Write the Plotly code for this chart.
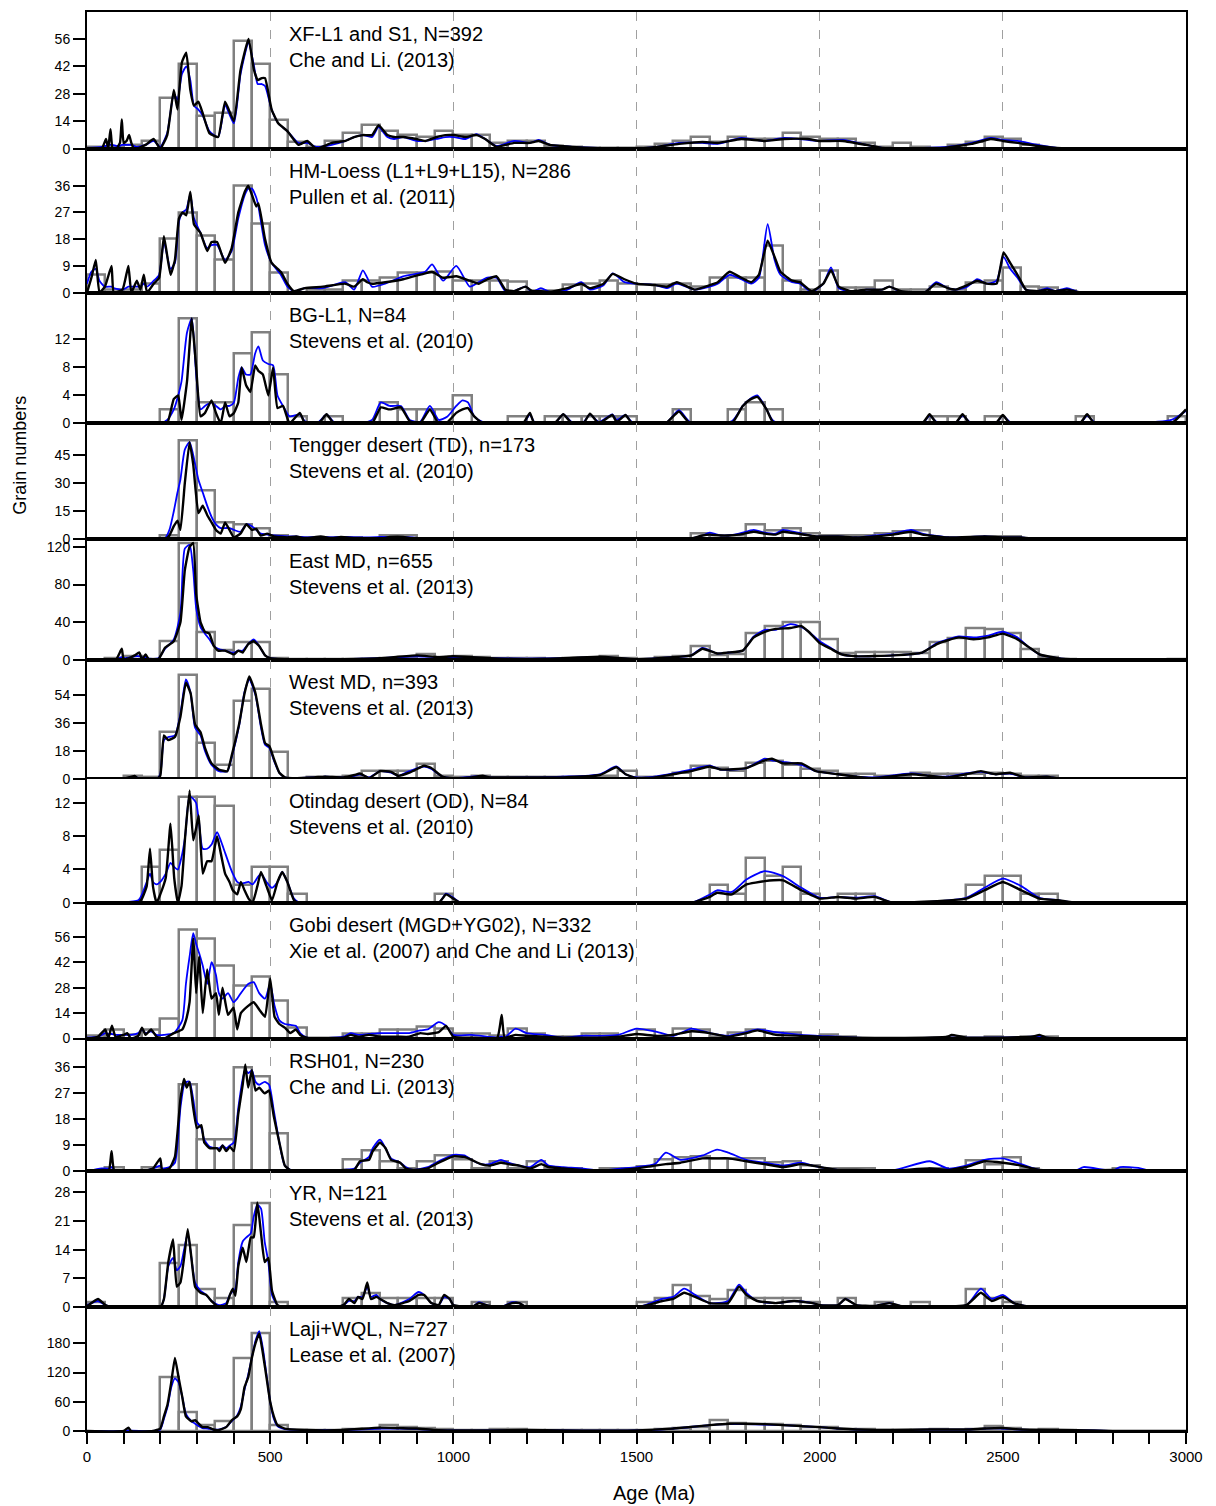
import plotly.graph_objects as go
from plotly.subplots import make_subplots

# ---------------- data ----------------
BIN_LEFT = list(range(0, 3000, 50))
BIN_WIDTH = 50

LABELS = ["XF-L1 and S1, N=392", "HM-Loess (L1+L9+L15), N=286", "BG-L1, N=84",
          "Tengger desert (TD), n=173", "East MD, n=655", "West MD, n=393",
          "Otindag desert (OD), N=84", "Gobi desert (MGD+YG02), N=332",
          "RSH01, N=230", "YR, N=121", "Laji+WQL, N=727"]
SOURCES = ["Che and Li. (2013)", "Pullen et al. (2011)", "Stevens et al. (2010)",
           "Stevens et al. (2010)", "Stevens et al. (2013)", "Stevens et al. (2013)",
           "Stevens et al. (2010)", "Xie et al. (2007) and Che and Li (2013)",
           "Che and Li. (2013)", "Stevens et al. (2013)", "Lease et al. (2007)"]
YTICKS = [[0, 14, 28, 42, 56], [0, 9, 18, 27, 36], [0, 4, 8, 12], [0, 15, 30, 45],
          [0, 40, 80, 120], [0, 18, 36, 54], [0, 4, 8, 12], [0, 14, 28, 42, 56],
          [0, 9, 18, 27, 36], [0, 7, 14, 21, 28], [0, 60, 120, 180]]
YMAX = [69.7, 48.4, 18.7, 62, 128, 76.5, 14.9, 74.7, 46, 33.1, 254]
XTICKS = [0, 500, 1000, 1500, 2000, 2500, 3000]

# histograms (50 Ma bins, 0..3000)
P1_HIST = [1, 1, 2, 4, 26, 43, 16.5, 18.5, 55, 43,
           14.5, 3.5, 1, 4, 8, 12, 9, 7, 6, 9,
           7, 7, 3, 4, 4, 1.5, 1, 0.5, 0.5, 0.5,
           1, 2.7, 4, 6, 3.5, 6, 5, 5, 8, 6,
           5, 5, 3, 1, 3, 1, 0.5, 2, 3.5, 6,
           5, 2, 0, 0, 0, 0, 0, 0, 0, 0]
P2_HIST = [6, 1, 1, 3, 18, 27, 19, 11, 36, 23,
           6.5, 0, 1, 1, 4, 4, 5, 6.5, 6.5, 7,
           4, 4, 4, 3.5, 0.5, 0.5, 2.5, 3, 4, 3,
           2.5, 2.5, 3, 2, 5, 5, 5, 15.7, 4, 1,
           7.3, 1.5, 1.5, 4, 1, 1, 1.8, 1, 3.4, 4,
           8.4, 2, 1.5, 0.5, 0, 0, 0, 0, 0, 0]
P3_HIST = [0, 0, 0, 0, 2, 15, 3, 3, 10, 13,
           7, 1, 0, 1, 0, 0, 3, 2, 2, 2,
           4, 0, 0, 1, 0, 1, 1, 1, 1, 1,
           0, 0, 2, 0, 0, 2, 3, 2, 0, 0,
           0, 0, 0, 0, 0, 0, 1, 1, 0, 1,
           0, 0, 0, 0, 1, 0, 0, 0, 0, 1]
P4_HIST = [0, 0, 0, 0, 2, 53, 26, 9, 8, 6,
           2, 1, 1, 1, 1, 0, 2, 2, 0, 0,
           0, 0, 0, 0, 0, 0, 0, 0, 0, 0,
           0, 0, 0, 3, 2, 2, 8, 5, 6, 3,
           2, 2, 2, 3, 4, 5, 1, 0, 1, 1.5,
           1.5, 0, 0, 0, 0, 0, 0, 0, 0, 0]
P5_HIST = [0, 2, 4, 1, 20, 124, 30, 10, 19, 19,
           2, 1, 0.5, 0.5, 0.5, 1, 2, 3, 6, 3,
           4, 3, 2, 1.5, 1.5, 1, 2, 2, 4, 2,
           1, 3, 4, 15, 5, 6, 28, 36, 40, 40,
           22, 7, 8, 8, 8, 7, 19, 23, 34, 33,
           28, 12, 3, 1, 0, 0, 0, 0, 0, 0.5]
P6_HIST = [0, 0, 2, 1, 30, 67, 23, 9, 50, 58,
           17, 0, 1, 1, 2, 5, 5, 5, 9.5, 2,
           1, 2, 1, 1, 1, 1, 1, 1, 2, 5,
           1, 1, 4, 8, 7, 5, 10, 11.6, 9, 6.4,
           5, 3, 3, 2, 1, 4, 3, 3, 3, 4,
           3, 2, 2, 0, 0, 0, 0, 0, 0, 0]
P7_HIST = [0, 0, 0, 4.3, 6.3, 12.7, 12.7, 11.6, 2.1, 4.3,
           4.3, 1.1, 0, 0, 0, 0, 0, 0, 0, 1.1,
           0, 0, 0, 0, 0, 0, 0, 0, 0, 0,
           0, 0, 0, 0, 2.1, 1.1, 5.4, 3.2, 4.3, 1.1,
           0, 1.1, 1.1, 0, 0, 0, 0, 0, 2.1, 3.2,
           3.2, 1.1, 1.1, 0, 0, 0, 0, 0, 0, 0]
P8_HIST = [1.3, 5, 2, 5, 11, 60, 55, 40, 29, 34,
           21, 6, 0, 0, 2.6, 2.6, 4.6, 4.6, 6.3, 5.5,
           2.6, 2.6, 1.7, 5.5, 2.6, 1, 1, 2.6, 2.6, 0,
           5, 1, 5.5, 5, 1, 3, 5, 3, 3, 1,
           2, 1, 0, 0, 0, 0, 0, 1, 0, 1,
           0, 1, 1, 0, 0, 0, 0, 0, 0, 0]
P9_HIST = [0, 1.2, 0, 1.2, 0, 30, 11, 11, 36, 33,
           13, 0, 0, 0, 4.2, 7.2, 3.3, 1, 3.3, 5.4,
           4.2, 1, 3.3, 1, 3.3, 1, 1, 0, 1, 1,
           1.8, 4.2, 4.8, 5.2, 4.5, 4.5, 4.5, 3, 3.5, 2,
           1, 1, 1, 0, 0, 0, 1, 0, 3.8, 2.5,
           4.8, 1, 0, 0, 0, 0, 1, 0, 0, 0]
P10_HIST = [1.2, 0, 0, 0, 10.6, 15, 4.3, 2.2, 20, 25.4,
            1.1, 0, 0, 0, 2.2, 3.3, 2.2, 2.2, 2.2, 2.2,
            0, 1.1, 0, 1.1, 0, 0, 0, 0, 0, 0,
            1.1, 2.2, 5.4, 2.7, 2, 4.1, 2.2, 2.2, 2.2, 1.1,
            0, 2.2, 0, 1.1, 0, 1.1, 0, 0, 4.3, 2.2,
            1.1, 0, 0, 0, 0, 0, 0, 0, 0, 0]
P11_HIST = [0, 0, 0, 0, 111, 38, 12, 20, 149, 201,
            11, 2, 1, 1, 3, 3, 11, 8, 6, 3,
            2, 2, 3, 3, 2, 2, 1, 1, 1, 1,
            2, 3, 5, 8, 22, 16, 14, 14, 12, 8,
            8, 4, 3, 2, 2, 2, 4, 2, 3, 10,
            6, 2, 3, 1, 0, 0, 0, 0, 0, 0]

# curves: ages (Ma), black = PDP, blue = KDE
P1_AGE = [0, 40, 52, 58, 64, 70, 80, 90, 95, 100, 108, 115, 121, 128, 134, 160, 182, 200, 219, 237,
          247, 259, 271, 282, 292, 304, 316, 334, 358, 377, 401, 419, 441, 456, 466, 477, 486, 504, 522, 547,
          577, 601, 626, 668, 705, 729, 753, 778, 796, 820, 838, 863, 899, 923, 954, 978, 1002, 1033, 1063, 1087,
          1118, 1166, 1209, 1233, 1264, 1324, 1397, 1494, 1555, 1616, 1680, 1722, 1786, 1850, 1903, 1967, 2000, 2063, 2127, 2170,
          2254, 2340, 2415, 2467, 2500, 2540, 2595, 2660, 2735, 3000]
P1_PDP = [0, 0, 5, 0, 10, 0, 0, 3, 15, 3, 4, 7, 3, 0, 0, 2, 5, 0, 7, 30,
          20, 44, 49, 30, 22, 24, 18, 8, 6, 24, 14, 40, 56, 40, 35, 36, 36, 20, 13, 9,
          2, 4, 0, 3, 4, 6, 7, 7, 12, 7, 6, 6, 5, 4, 6, 7, 7, 6, 7, 5,
          1, 3, 3, 4, 2, 1, 0.3, 0, 1, 2.5, 3.5, 3, 5, 4, 5, 5, 4, 4, 2, 0.5,
          0.3, 0.5, 2.5, 5, 4, 3, 1.5, 0.3, 0, 0]
P1_KDE = [0.5, 1, 1.5, 2, 2, 2, 1.5, 1.5, 2, 2, 2, 2, 2, 1.5, 1, 2, 4, 1, 8, 28,
          25, 38, 42, 35, 22, 20, 17, 9, 6, 22, 13, 38, 54, 42, 33, 33, 32, 20, 13, 9,
          3, 3, 1, 2, 4, 6, 7, 6, 11, 6, 5, 6, 4, 4, 5, 6, 6, 5, 7.5, 5,
          1.5, 4, 3, 4.5, 2, 1, 0.5, 0.2, 1, 3, 3, 2.5, 5.5, 4, 5.5, 4.5, 4, 4.5, 2, 0.5,
          0.3, 0.8, 3, 5.5, 4.5, 4, 2, 0.3, 0, 0]

P2_AGE = [0, 12, 24, 34, 49, 67, 73, 97, 113, 121, 136, 146, 155, 164, 182, 197, 210, 228, 240, 251,
          261, 271, 282, 292, 310, 328, 340, 355, 377, 395, 413, 431, 440, 450, 462, 468, 486, 504, 529, 547,
          565, 595, 644, 705, 729, 753, 765, 778, 814, 863, 923, 942, 972, 1008, 1045, 1069, 1093, 1118, 1142, 1166,
          1197, 1215, 1239, 1264, 1312, 1349, 1373, 1410, 1435, 1467, 1500, 1552, 1584, 1610, 1659, 1700, 1722, 1754, 1786, 1813,
          1834, 1858, 1877, 1893, 1925, 1946, 1978, 2010, 2031, 2052, 2084, 2127, 2170, 2190, 2222, 2286, 2318, 2350, 2371, 2403,
          2430, 2456, 2483, 2502, 2520, 2540, 2563, 2595, 2621, 2643, 2675, 2712, 3000]
P2_PDP = [0, 5, 11, 0, 2, 9, 0, 1, 9, 0, 4, 1, 6, 0, 3, 5, 19, 6, 11, 25,
          27, 26, 34, 23, 20, 14, 17, 17, 10, 15, 27, 34, 36, 33, 29, 30, 18, 10, 7, 3,
          0.5, 1.5, 2, 3, 2, 4.5, 3.5, 3, 3.5, 4.5, 6.5, 7, 5, 5.5, 4, 3, 4.5, 5.5, 1, 0.5,
          2, 0.5, 0.5, 0.3, 1.5, 3, 1.5, 3, 6.3, 4.5, 3, 2.5, 2, 3.5, 1, 2.5, 3.5, 7, 5, 3.5,
          6, 17.5, 12, 7, 4, 3.5, 0.5, 3, 7.5, 2, 0.5, 1, 1, 2, 0.5, 0, 3, 1.5, 1, 2.5,
          4, 3, 3, 13.5, 10, 6, 1, 0.5, 1, 0.5, 1, 0, 0]
P2_KDE = [3, 7, 8, 4, 2, 2, 1.5, 1, 2, 2, 2, 2, 3, 2, 4, 6, 17, 8, 10, 24,
          27, 28, 33, 25, 20, 15, 16, 16, 11, 14, 25, 33, 35, 35, 32, 29, 16, 10, 6, 2,
          0.5, 1.5, 1.5, 3.5, 1, 7.5, 5, 2, 3, 5.5, 7, 9.5, 4, 9, 2, 3.5, 5, 5, 0.5, 0.5,
          2, 0.3, 1.5, 0.2, 1, 3.5, 1, 2.5, 6.5, 3.5, 3, 2.5, 1.5, 3, 1, 2, 3, 6, 4.5, 3,
          5, 23, 11, 6, 3.5, 3, 0.3, 3, 8.5, 1.5, 0.3, 1, 1, 2, 0.3, 0, 3.5, 1.5, 1, 2,
          4.5, 3, 4, 12, 8, 5, 1, 0.5, 1.5, 0.5, 1.5, 0, 0]

P3_AGE = [0, 200, 219, 237, 249, 258, 273, 286, 298, 310, 322, 340, 352, 365, 377, 389, 401, 413, 422, 434,
          446, 459, 468, 480, 495, 508, 520, 535, 553, 581, 595, 632, 654, 674, 741, 778, 802, 826, 857, 881,
          909, 936, 960, 984, 1008, 1025, 1040, 1057, 1081, 1190, 1209, 1221, 1276, 1300, 1324, 1355, 1373, 1397, 1434, 1446,
          1470, 1488, 1579, 1616, 1646, 1760, 1790, 1810, 1830, 1855, 1875, 2280, 2300, 2320, 2370, 2390, 2410, 2480, 2500, 2520,
          2710, 2730, 2750, 2960, 3000]
P3_PDP = [0, 0, 0, 3.5, 4, 0.5, 6, 15, 8, 1, 1.5, 3.3, 1.5, 0, 3, 1, 1.5, 3, 8, 5.5,
          4.5, 8.3, 7.5, 7, 4, 8, 2.2, 2.5, 0, 1.5, 0, 0, 1.3, 0, 0, 0, 2.3, 2, 2.3, 0.3,
          0, 2, 0, 0.2, 1.5, 2, 2.2, 1, 0, 0, 1.5, 0, 0, 1.3, 0, 0, 1.4, 0, 1.2, 0.2,
          1.2, 0, 0, 1.7, 0, 0, 2.5, 3.4, 3.8, 2, 0, 0, 1.3, 0, 0, 1.3, 0, 0, 1.2, 0,
          0, 1.3, 0, 0, 2]
P3_KDE = [0, 0, 0.5, 2, 4, 6, 13, 15, 7, 2, 2.5, 3, 2.5, 2, 2.5, 2.5, 3, 6.5, 8, 7,
          7, 10, 11, 9, 8.5, 8.3, 4, 2.5, 1, 1.3, 0.3, 0.2, 1.3, 0.2, 0, 0.5, 3, 2.5, 2.5, 0.5,
          0.2, 2.5, 0.5, 1, 2.5, 3.3, 3, 1, 0.2, 0, 1.3, 0.2, 0, 1.3, 0.2, 0.2, 1.3, 0.2, 1.3, 0.5,
          1.2, 0.2, 0, 1.9, 0.2, 0.3, 2.5, 3.5, 4, 2, 0.3, 0, 1.1, 0.2, 0, 1.1, 0.2, 0, 1.1, 0.2,
          0, 1.1, 0.2, 0.5, 1.8]

P4_AGE = [0, 200, 213, 225, 237, 247, 255, 267, 280, 290, 304, 316, 328, 340, 352, 365, 377, 389, 401, 419,
          435, 450, 462, 474, 492, 510, 547, 571, 595, 638, 668, 693, 741, 802, 826, 863, 887, 936, 1000, 1600,
          1650, 1680, 1700, 1730, 1750, 1780, 1820, 1850, 1880, 1900, 1940, 1990, 2050, 2100, 2150, 2200, 2250, 2280, 2350, 2450,
          2500, 2550, 2600, 3000]
P4_PDP = [0, 0, 0, 2, 7, 10, 5, 30, 52, 40, 14, 18, 13, 9, 5, 3, 9, 5, 1, 3,
          8, 5, 5.5, 2, 3, 1.5, 1, 1.5, 0.5, 1.5, 0.5, 1.2, 0.3, 0.3, 1.2, 1.3, 0.5, 0, 0, 0,
          0.5, 2, 2.5, 2, 2, 2.5, 4, 3, 2.5, 4, 3, 1.5, 1.5, 1, 1.5, 2.5, 4, 2.5, 1, 1.5,
          1, 1, 0, 0]
P4_KDE = [0, 0, 0.5, 5, 15, 25, 32, 48, 52, 45, 32, 25, 18, 12, 8, 6, 6, 6, 5, 4,
          8, 7, 5, 3, 2.5, 2, 1.5, 1.5, 1, 1.2, 1, 1.2, 1, 1.2, 1.3, 1.3, 1, 0.2, 0, 0,
          0.5, 2, 3.5, 2, 2, 3, 5, 3.5, 3, 5, 3.5, 1.5, 1.5, 1, 2, 3, 5, 3, 1, 1.5,
          1, 1, 0, 0]

P5_AGE = [0, 60, 80, 95, 100, 120, 130, 143, 150, 160, 170, 195, 213, 237, 255, 267, 280, 290, 298, 310,
          322, 334, 346, 358, 377, 401, 413, 425, 440, 455, 470, 486, 500, 540, 600, 700, 800, 900, 960, 1000,
          1100, 1200, 1300, 1400, 1500, 1600, 1650, 1680, 1720, 1750, 1790, 1820, 1850, 1880, 1920, 1950, 1970, 2000, 2030, 2060,
          2100, 2200, 2280, 2320, 2350, 2380, 2420, 2460, 2500, 2540, 2570, 2600, 2650, 2700, 2800, 2950, 3000]
P5_PDP = [0, 0.5, 1, 12, 1, 3, 5, 8, 1, 6, 0, 1, 13, 20, 40, 95, 120, 124, 70, 40,
          30, 28, 15, 10, 10, 6, 10, 8, 17, 20, 15, 5, 2, 1, 0.5, 1, 2, 5, 3, 4,
          2, 1, 2, 3.5, 1, 3, 5, 12, 7, 8, 10, 24, 30, 33, 34, 36, 30, 18, 12, 6,
          4, 5, 8, 17, 21, 24, 22, 24, 28, 22, 14, 6, 2, 0.5, 0, 0.5, 1]
P5_KDE = [0, 0.5, 1, 3, 2, 3, 4, 4, 3, 3, 1.5, 2, 12, 22, 50, 118, 122, 95, 55, 35,
          28, 22, 15, 12, 10, 8, 10, 10, 17, 22, 15, 5, 2, 1, 0.5, 1, 2, 4, 3, 3,
          2, 1.5, 2, 3, 1, 3, 5, 13, 7, 8, 10, 25, 32, 32, 38, 35, 30, 20, 13, 6,
          4, 5, 8, 18, 22, 25, 24, 26, 30, 24, 14, 6, 2, 0.5, 0, 0.5, 1]

P6_AGE = [0, 100, 130, 140, 190, 200, 210, 222, 240, 255, 270, 283, 295, 310, 322, 340, 360, 383, 395, 415,
          430, 443, 460, 475, 486, 498, 510, 525, 540, 560, 620, 650, 700, 730, 745, 770, 800, 830, 850, 880,
          920, 940, 970, 1000, 1050, 1080, 1100, 1200, 1300, 1400, 1445, 1470, 1500, 1550, 1600, 1650, 1700, 1730, 1800, 1850,
          1870, 1900, 1950, 1990, 2050, 2100, 2150, 2250, 2300, 2350, 2400, 2440, 2480, 2520, 2560, 2620, 2660, 3000]
P6_PDP = [0, 0, 2, 0, 0, 2, 28, 25, 27, 40, 62, 55, 35, 30, 20, 10, 6, 5, 15, 35,
          55, 66, 55, 35, 23, 21, 13, 4, 1, 0.5, 1, 1.5, 1, 2.5, 3.5, 0.5, 5, 4.5, 2, 4,
          8.5, 7, 1.5, 0.5, 1, 2, 1, 1, 1, 2.5, 7.5, 3, 0.5, 1, 3, 5, 8, 6, 7, 12,
          13, 10, 10, 5, 3, 1.5, 0.5, 3, 2, 1, 3, 5, 3, 4, 1, 1.5, 0, 0]
P6_KDE = [0, 0, 1.5, 0.5, 0, 3, 25, 27, 28, 42, 64, 55, 33, 28, 18, 9, 5, 5, 14, 34,
          56, 64, 54, 33, 22, 20, 12, 4, 1, 0.5, 1, 1.5, 1, 2, 3, 1, 5, 4, 2, 5,
          8, 6.5, 1.5, 0.5, 1.5, 2, 1, 1, 1.5, 3, 8, 3, 1, 1.5, 3.5, 6, 8.5, 6, 7, 13,
          12, 11, 9, 5, 3, 1.5, 1, 3.5, 2, 1.5, 3.5, 4.5, 3, 3.5, 1, 1.5, 0, 0]

P7_AGE = [0, 140, 150, 163, 172, 180, 190, 200, 215, 228, 238, 248, 258, 268, 280, 290, 298, 305, 316, 328,
          340, 355, 365, 377, 389, 398, 410, 420, 430, 441, 452, 465, 475, 490, 505, 520, 533, 547, 565, 580,
          960, 980, 1000, 1020, 1650, 1700, 1720, 1760, 1800, 1850, 1900, 1950, 2000, 2050, 2100, 2150, 2200, 2400, 2450, 2500,
          2550, 2600, 2650, 2700, 3000]
P7_PDP = [0, 0, 0.5, 2, 6.5, 2, 0, 1, 3, 9.5, 3, 0, 2, 8, 13.5, 7.5, 9, 10.5, 3.5, 5,
          5, 8, 6, 3.5, 2.5, 1.5, 1, 2.5, 1.5, 0.5, 0, 2, 3.7, 2, 0.3, 2.5, 3.7, 2.5, 0.3, 0,
          0, 1, 0.5, 0, 0, 0.7, 1.2, 1, 2.2, 2.6, 2.7, 1.5, 0.5, 0.7, 0.5, 0.7, 0, 0.5, 1.5, 2.5,
          1.5, 0.5, 0.3, 0, 0]
P7_KDE = [0, 0.3, 1, 2.5, 3.5, 2.5, 2.2, 2.5, 3.5, 4.8, 4.3, 4, 5.5, 8, 12.8, 12.5, 12, 10, 6.5, 6.5,
          7, 8.5, 7.5, 6, 4.5, 3.5, 2.5, 2.3, 2.4, 2.5, 2.2, 3, 3.5, 2.5, 1.8, 2.5, 3.7, 2.5, 0.5, 0,
          0, 1.1, 0.6, 0, 0, 1, 1.5, 1.3, 2.8, 3.8, 3.2, 1.8, 0.6, 0.7, 0.6, 0.8, 0, 0.6, 1.8, 2.9,
          2, 0.6, 0.3, 0, 0]

P8_AGE = [0, 30, 50, 58, 68, 78, 100, 110, 120, 140, 150, 160, 175, 190, 210, 237, 260, 270, 280, 290,
          298, 306, 316, 328, 340, 352, 360, 370, 385, 400, 410, 420, 440, 455, 470, 486, 500, 512, 525, 540,
          555, 570, 582, 600, 700, 720, 740, 770, 800, 850, 880, 910, 930, 960, 980, 1000, 1050, 1120, 1132, 1140,
          1170, 1200, 1250, 1300, 1350, 1400, 1450, 1500, 1550, 1600, 1650, 1700, 1750, 1800, 1830, 1880, 1950, 2000, 2100, 2200,
          2350, 2360, 2400, 2580, 2600, 2620, 2700, 3000]
P8_PDP = [0, 1, 5, 0, 7, 1, 2, 3, 0, 1.5, 6, 2, 5, 1, 0, 3, 5, 10, 20, 55,
          25, 45, 14, 38, 22, 25, 13, 28, 13, 17, 5, 14, 18, 20, 16, 12, 33, 12, 8, 6,
          3, 5, 2, 0.5, 0.5, 2, 1, 2, 1, 1, 1, 3, 2.5, 3.5, 7, 1, 0.5, 0.5, 13, 0.5,
          2, 1.5, 1, 0.5, 0.5, 0.5, 1, 2.5, 1.5, 2, 4, 3, 1, 3, 4.5, 2, 1.5, 1, 0.5, 0.3,
          1, 2, 0.5, 1, 2, 0.5, 0, 0]
P8_KDE = [0.5, 1, 3, 2.5, 2.5, 2, 2, 2, 2, 3, 5, 3, 4, 2, 2, 3, 10, 30, 45, 58,
          52, 47, 40, 30, 42, 35, 25, 22, 25, 20, 22, 25, 30, 31, 25, 22, 30, 18, 10, 8,
          7.5, 7, 3, 0.5, 1, 3, 2, 2.5, 3, 3, 3, 4.5, 5, 9, 7, 2, 2, 0.5, 1, 0.5,
          5.5, 3, 2, 0.5, 1.5, 1.5, 2, 5.5, 4, 1.5, 5.5, 3, 1.5, 3.5, 5, 3.5, 2, 1.5, 0.5, 0.3,
          0.5, 0.5, 0.5, 1, 1.5, 0.5, 0, 0]

P9_AGE = [0, 40, 60, 67, 75, 150, 180, 200, 205, 225, 240, 255, 265, 272, 280, 290, 300, 312, 320, 335,
          355, 362, 370, 380, 390, 401, 413, 425, 432, 440, 450, 460, 470, 485, 497, 510, 525, 540, 560, 650,
          700, 730, 745, 770, 780, 800, 815, 830, 855, 870, 890, 930, 960, 1000, 1030, 1050, 1075, 1100, 1130, 1150,
          1180, 1210, 1240, 1260, 1300, 1350, 1400, 1460, 1500, 1550, 1580, 1620, 1680, 1720, 1750, 1800, 1850, 1900, 1950, 1980,
          2050, 2100, 2200, 2300, 2350, 2400, 2450, 2500, 2550, 2600, 2700, 2720, 2800, 2820, 2870, 2900, 3000]
P9_PDP = [0, 0.5, 0.5, 7, 0, 0, 1, 4.5, 0.5, 1, 5, 25, 32, 29, 31, 22, 15, 16, 10, 8,
          8, 7, 9, 7, 8.5, 7, 20, 30, 37, 29, 35, 28, 29, 27, 28, 19, 10, 2, 0, 0,
          0.5, 0.5, 3.5, 4, 7, 10, 8, 4, 3, 1, 0.5, 1, 3, 5.2, 5, 4, 2.5, 2, 3, 2.5,
          2, 1, 2.5, 1.5, 1, 0.5, 0, 0.5, 1, 2, 2.5, 3, 4.5, 4.5, 4.5, 3.5, 2.5, 1.5, 2.5, 2,
          0.5, 0.5, 0.3, 1, 0.5, 1.5, 3.5, 3, 2, 0.5, 0.3, 0.3, 0.5, 0.3, 0.2, 0, 0]
P9_KDE = [0, 1, 1, 1.5, 0.5, 0, 1, 2, 1, 1.5, 3, 22, 30, 31, 31, 25, 17, 15, 11, 8.5,
          8, 8, 9, 8, 9, 10, 22, 32, 35, 34, 35, 31, 30, 31, 30, 21, 10, 2, 0.3, 0,
          0.5, 1, 3, 5, 8, 11, 8, 4.5, 3, 1.5, 0.5, 1.5, 3.5, 5.7, 5.5, 4, 2.5, 2.5, 4, 3,
          2, 1.5, 4, 2, 1.5, 1, 0.3, 1, 1.5, 2.5, 6.5, 4, 5.5, 7.5, 6.5, 4, 3, 2, 3, 2,
          0.5, 0.5, 0.3, 3.5, 1, 2, 4, 4.5, 2.5, 0.5, 0.3, 1.5, 0.3, 1.5, 1.2, 0.2, 0]

P10_AGE = [0, 30, 50, 70, 200, 210, 222, 235, 245, 255, 265, 275, 285, 295, 310, 325, 340, 360, 380, 390,
           398, 405, 413, 425, 435, 447, 455, 465, 475, 485, 495, 505, 520, 540, 680, 700, 715, 730, 740, 752,
           765, 775, 790, 800, 820, 840, 880, 905, 920, 940, 960, 975, 990, 1000, 1050, 1070, 1090, 1130, 1160, 1180,
           1200, 1500, 1530, 1570, 1600, 1630, 1660, 1700, 1750, 1780, 1800, 1830, 1880, 1930, 1980, 2000, 2050, 2070, 2100, 2150,
           2190, 2220, 2400, 2440, 2470, 2500, 2530, 2560, 2600, 3000]
P10_PDP = [0.2, 2, 0.5, 0, 0, 2, 11, 16.5, 5, 6, 12, 19, 12, 5, 3.5, 3, 1.5, 0, 0.5, 3,
           4.5, 2.8, 10, 14.5, 11, 17, 17, 25.5, 18, 11, 12, 4, 0.5, 0, 0, 0.5, 2, 1, 2.5, 2,
           6, 2, 2.5, 2, 1, 0.5, 1.5, 3, 3, 1, 0.5, 3, 2, 0.5, 0, 1, 0.5, 0, 1, 1,
           0, 0, 0.5, 1.5, 2, 3.5, 2.5, 1, 1, 5, 3, 1.5, 1, 1.5, 1, 0.5, 0.5, 2, 0.5, 0.3,
           1, 0.3, 0.5, 3.5, 1.5, 2.5, 1, 0.3, 0, 0]
P10_KDE = [0.5, 1.5, 0.5, 0, 0, 2, 10, 12, 9, 10, 14, 18, 12, 6, 4, 3, 1.5, 0.5, 1, 3,
           4, 4.5, 11, 16, 17, 18, 22, 25, 24, 16, 11, 3, 0.5, 0, 0, 0.5, 1.5, 1.5, 2.5, 2.5,
           5, 2.5, 3, 2, 1, 0.5, 2, 3.7, 3, 1, 0.5, 2.5, 2, 0.5, 0, 1.2, 0.5, 0, 1.2, 1,
           0, 0, 0.7, 2, 2.5, 4.5, 3, 1, 1.5, 5.5, 3.5, 1.5, 1, 1.5, 1, 0.5, 0.5, 2, 0.5, 0.3,
           1, 0.3, 0.5, 4.5, 2, 3, 1, 0.3, 0, 0]

P11_AGE = [0, 100, 113, 120, 180, 200, 210, 220, 230, 240, 250, 260, 270, 285, 295, 305, 315, 330, 345, 360,
           380, 395, 410, 420, 430, 440, 450, 460, 470, 480, 490, 500, 510, 520, 540, 600, 700, 800, 850, 900,
           950, 1000, 1100, 1200, 1300, 1400, 1500, 1600, 1700, 1750, 1800, 1850, 1900, 1950, 2000, 2050, 2100, 2200, 2300, 2400,
           2450, 2500, 2550, 2650, 2750, 2800, 3000]
P11_PDP = [0, 0, 7, 0, 0, 5, 30, 55, 100, 150, 110, 70, 30, 20, 22, 15, 8, 8, 3, 2,
           8, 22, 30, 45, 90, 110, 150, 180, 200, 160, 110, 60, 30, 12, 5, 2, 2, 7, 6, 5,
           2, 1, 1, 2, 1, 0.5, 1, 5, 12, 15, 15, 14, 12, 10, 8, 5, 3, 2, 3, 3,
           5, 6, 3, 2, 1, 0, 0]
P11_KDE = [0, 0, 1, 0.5, 0, 3, 25, 50, 90, 108, 100, 70, 35, 20, 15, 10, 6, 5, 3, 3,
           8, 20, 32, 50, 85, 115, 150, 185, 205, 170, 115, 60, 25, 10, 4, 2, 2, 5, 5, 4,
           2, 1, 1, 2, 1, 0.5, 1, 5, 12, 14, 14, 13, 12, 10, 8, 5, 3, 2, 3, 3,
           5, 5, 3, 2, 1, 0, 0]

PANELS = [
    dict(hist=P1_HIST, age=P1_AGE, pdp=P1_PDP, kde=P1_KDE),
    dict(hist=P2_HIST, age=P2_AGE, pdp=P2_PDP, kde=P2_KDE),
    dict(hist=P3_HIST, age=P3_AGE, pdp=P3_PDP, kde=P3_KDE),
    dict(hist=P4_HIST, age=P4_AGE, pdp=P4_PDP, kde=P4_KDE),
    dict(hist=P5_HIST, age=P5_AGE, pdp=P5_PDP, kde=P5_KDE),
    dict(hist=P6_HIST, age=P6_AGE, pdp=P6_PDP, kde=P6_KDE),
    dict(hist=P7_HIST, age=P7_AGE, pdp=P7_PDP, kde=P7_KDE),
    dict(hist=P8_HIST, age=P8_AGE, pdp=P8_PDP, kde=P8_KDE),
    dict(hist=P9_HIST, age=P9_AGE, pdp=P9_PDP, kde=P9_KDE),
    dict(hist=P10_HIST, age=P10_AGE, pdp=P10_PDP, kde=P10_KDE),
    dict(hist=P11_HIST, age=P11_AGE, pdp=P11_PDP, kde=P11_KDE),
]

# ---------------- figure ----------------
ROW_PX = [137, 144, 131, 116, 121, 119, 124, 136, 133, 136, 124]
N = len(PANELS)
FONT = "Arial, Liberation Sans, Helvetica, sans-serif"

fig = make_subplots(rows=N, cols=1, shared_xaxes=True, vertical_spacing=0,
                    row_heights=ROW_PX)

for i, p in enumerate(PANELS):
    r = i + 1
    n_ok = min(len(p["age"]), len(p["pdp"]), len(p["kde"]))
    xs = [b + BIN_WIDTH / 2 for b, h in zip(BIN_LEFT, p["hist"]) if h > 0]
    hs = [h for h in p["hist"] if h > 0]
    fig.add_trace(go.Bar(x=xs, y=hs, width=BIN_WIDTH,
                         marker=dict(color="rgba(0,0,0,0)",
                                     line=dict(color="#808080", width=2.5)),
                         showlegend=False, hoverinfo="skip"), row=r, col=1)
    fig.add_trace(go.Scatter(x=p["age"][:n_ok], y=p["kde"][:n_ok], mode="lines",
                             line=dict(color="#0000ff", width=1.8, shape="spline", smoothing=0.6),
                             showlegend=False, hoverinfo="skip"), row=r, col=1)
    fig.add_trace(go.Scatter(x=p["age"][:n_ok], y=p["pdp"][:n_ok], mode="lines",
                             line=dict(color="black", width=2.4, shape="spline", smoothing=0.4),
                             showlegend=False, hoverinfo="skip"), row=r, col=1)

    fig.update_yaxes(range=[0, YMAX[i]], tickvals=YTICKS[i], ticks="outside", ticklen=12,
                     tickwidth=1.5, tickcolor="black", showline=True, linewidth=2,
                     linecolor="black", mirror=True, showgrid=False, zeroline=False,
                     tickfont=dict(size=14, color="black", family=FONT), row=r, col=1)
    last = (r == N)
    fig.update_xaxes(range=[0, 3000], tickvals=XTICKS, showgrid=True, griddash="dash",
                     gridcolor="#a0a0a0", gridwidth=1.3, showline=True, linewidth=2,
                     linecolor="black", mirror=True, zeroline=False,
                     ticks="outside" if last else "", ticklen=11, tickwidth=1.5,
                     tickcolor="black", showticklabels=last,
                     tickfont=dict(size=15, color="black", family=FONT),
                     row=r, col=1)
    if last:
        fig.update_xaxes(minor=dict(dtick=100, tick0=0, ticks="outside", ticklen=11,
                                    tickwidth=1.5, tickcolor="black", showgrid=False),
                         row=r, col=1)

    xr = "x" if r == 1 else f"x{r}"
    yr = "y domain" if r == 1 else f"y{r} domain"
    fig.add_annotation(x=546, xref=xr, y=1, yref=yr, yshift=-9,
                       text=LABELS[i] + "<br>" + SOURCES[i], showarrow=False,
                       xanchor="left", yanchor="top", align="left",
                       font=dict(size=20, color="black", family=FONT))

fig.add_annotation(x=-0.061, y=0.688, xref="paper", yref="paper", text="Grain numbers",
                   textangle=-90, showarrow=False, xanchor="center", yanchor="middle",
                   font=dict(size=18, color="black", family=FONT))
fig.add_annotation(x=0.516, y=-0.0436, xref="paper", yref="paper", text="Age (Ma)",
                   showarrow=False, xanchor="center", yanchor="middle",
                   font=dict(size=20, color="black", family=FONT))

# page body has an 8 px margin; size the figure so the plot lands where the reference has it
fig.update_layout(width=1208, height=1498, margin=dict(l=79, r=30, t=2, b=75),
                  plot_bgcolor="white", paper_bgcolor="white", bargap=0,
                  font=dict(family=FONT, color="black"))

fig.write_html("out.html")
